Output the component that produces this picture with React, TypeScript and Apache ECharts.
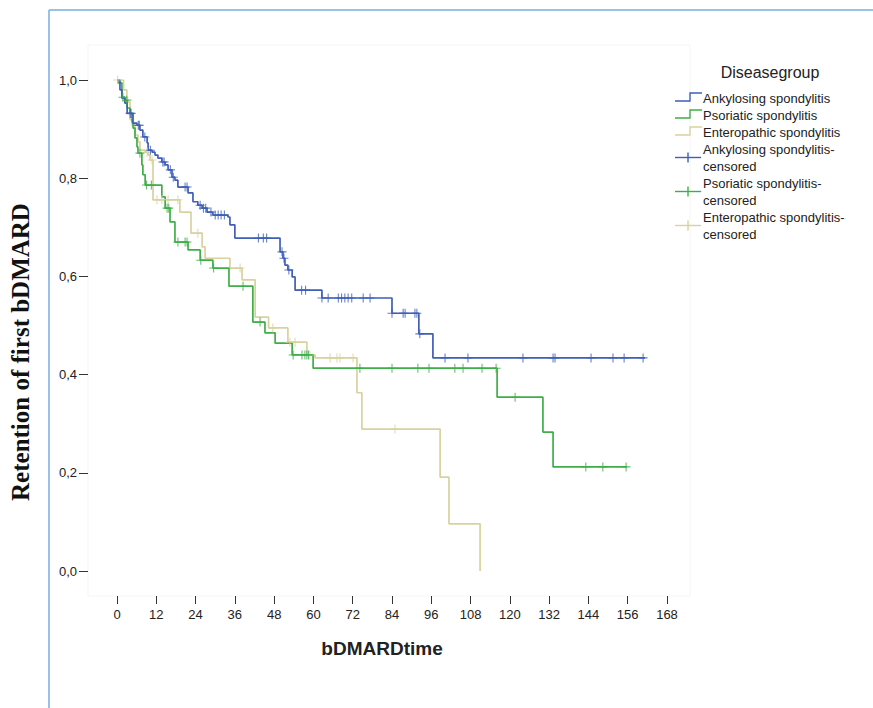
import React, { useEffect, useRef } from 'react';
import * as echarts from 'echarts';

// Kaplan–Meier steps: [time, survival after the drop at that time]
const asSteps: [number, number][] = [
  [0, 1], [0.9, 0.98], [1.5, 0.963], [2.4, 0.953], [3.1, 0.932], [4.9, 0.912], [6.1, 0.908],
  [7.0, 0.898], [7.9, 0.884], [9.2, 0.872], [9.5, 0.857], [10.7, 0.853], [11.6, 0.847],
  [12.5, 0.841], [13.7, 0.833], [14.7, 0.827], [15.6, 0.817], [16.8, 0.802], [17.7, 0.796],
  [18.6, 0.782], [21.7, 0.77], [23.2, 0.752], [24.7, 0.745], [26.0, 0.739], [27.5, 0.731],
  [29.3, 0.725], [33.9, 0.721], [34.5, 0.705], [36.0, 0.678], [49.8, 0.65], [50.7, 0.637],
  [51.3, 0.623], [52.2, 0.613], [53.5, 0.599], [54.4, 0.572], [62.6, 0.556], [84.0, 0.525],
  [92.2, 0.483], [96.5, 0.434],
];
const asEnd = 161.3;
const asCensored: number[] = [
  4.0, 4.3, 6.5, 6.8, 8.5, 10.2, 14.0, 14.4, 16.3, 17.2, 20.8, 21.4, 25.4, 26.4, 27.1, 28.7,
  30.0, 30.9, 31.8, 32.8, 43.2, 44.7, 45.7, 50.4, 51.0, 52.5, 56.4, 57.6, 62.6, 64.5, 67.6,
  68.6, 69.6, 70.6, 71.7, 75.2, 77.3, 84.0, 87.4, 88.0, 91.0, 91.6, 92.5, 100.2, 107.2, 124.0,
  133.2, 133.8, 144.8, 151.5, 154.9, 160.7,
];

const psSteps: [number, number][] = [
  [0, 1], [0.3, 0.994], [1.5, 0.965], [2.4, 0.959], [3.1, 0.943], [4.0, 0.932], [4.6, 0.914],
  [4.9, 0.902], [5.5, 0.882], [6.1, 0.864], [6.4, 0.851], [7.6, 0.827], [7.9, 0.807],
  [8.6, 0.786], [13.7, 0.762], [14.7, 0.739], [16.2, 0.711], [17.7, 0.67], [21.7, 0.654],
  [25.4, 0.633], [29.3, 0.617], [34.2, 0.58], [41.5, 0.507], [45.2, 0.485], [48.3, 0.464],
  [53.5, 0.44], [59.9, 0.413], [116.1, 0.354], [130.1, 0.283], [133.2, 0.212],
];
const psEnd = 155.8;
const psCensored: number[] = [
  1.8, 3.0, 7.0, 9.0, 10.5, 15.3, 15.8, 18.6, 20.8, 21.4, 25.6, 29.5, 38.5, 43.7, 53.8, 56.5,
  57.4, 58.0, 58.5, 74.2, 84.0, 91.9, 95.3, 103.2, 105.7, 111.5, 115.8, 121.6, 143.2, 148.4,
  155.5,
];

const esSteps: [number, number][] = [
  [0, 1], [2.0, 0.98], [3.0, 0.96], [3.4, 0.955], [4.0, 0.919], [4.6, 0.908], [5.5, 0.888],
  [6.4, 0.874], [7.0, 0.857], [8.6, 0.853], [9.5, 0.847], [10.1, 0.837], [11.0, 0.756],
  [19.2, 0.731], [22.6, 0.688], [26.0, 0.66], [26.9, 0.637], [34.5, 0.617], [38.2, 0.593],
  [42.2, 0.517], [46.3, 0.495], [52.2, 0.466], [58.0, 0.44], [60.5, 0.434], [73.3, 0.363],
  [74.8, 0.289], [98.7, 0.191], [101.4, 0.096], [110.9, 0],
];
const esEnd = 110.9;
const esCensored: number[] = [
  0.2, 9.2, 10.7, 12.2, 13.7, 15.6, 18.6, 24.7, 37.6, 47.6, 52.8, 54.4, 58.9, 65.1, 67.2, 68.1,
  72.1, 84.9,
];

const groupNames = ['Ankylosing spondylitis', 'Psoriatic spondylitis', 'Enteropathic spondylitis'];
const legendTitle = 'Diseasegroup';
const xTitle = 'bDMARDtime';
const yTitle = 'Retention of first bDMARD';

const COLORS = ['#3f5fb8', '#3fae49', '#d8d29e'];
const FONT = '"Liberation Sans", Arial, sans-serif';
const PLUS = 'path://M8.8,0H11.2V8.8H20V11.2H11.2V20H8.8V11.2H0V8.8H8.8Z';

function survAt(steps: [number, number][], t: number): number {
  let s = 1;
  for (const [st, sv] of steps) {
    if (st <= t) s = sv;
    else break;
  }
  return s;
}

export default function App() {
  const ref = useRef<HTMLDivElement>(null);

  useEffect(() => {
    if (!ref.current) return;
    const chart = echarts.init(ref.current, undefined, { renderer: 'svg' });

    const groups = [
      { steps: asSteps, end: asEnd, cens: asCensored },
      { steps: psSteps, end: psEnd, cens: psCensored },
      { steps: esSteps, end: esEnd, cens: esCensored },
    ];

    const series: any[] = [];
    [2, 1, 0].forEach((i) => {
      const g = groups[i];
      const last = g.steps[g.steps.length - 1][1];
      series.push({
        type: 'line',
        name: groupNames[i],
        step: 'end',
        data: [...g.steps, [g.end, last]],
        symbol: 'none',
        lineStyle: { color: COLORS[i], width: 1.7 },
        silent: true,
        z: 2,
      });
    });
    [2, 1, 0].forEach((i) => {
      const g = groups[i];
      series.push({
        type: 'scatter',
        name: groupNames[i] + '-censored',
        data: g.cens.map((t) => [t, survAt(g.steps, t)]),
        symbol: PLUS,
        symbolSize: 9,
        itemStyle: { color: COLORS[i] },
        silent: true,
        z: 3,
      });
    });

    const legendEls: any[] = [];
    legendEls.push({
      type: 'text',
      x: 770,
      y: 72,
      style: {
        text: legendTitle, font: `16px ${FONT}`, fill: '#222',
        align: 'center', verticalAlign: 'middle', textAlign: 'center', textVerticalAlign: 'middle',
      },
    });
    const rowY = (k: number) => 98 + 17 * k;
    for (let i = 0; i < 3; i++) {
      const y = rowY(i);
      legendEls.push({
        type: 'polyline',
        shape: { points: [[675, y + 3], [690, y + 3], [690, y - 5], [702, y - 5]] },
        style: { stroke: COLORS[i], lineWidth: 1.4, fill: 'none' },
      });
      legendEls.push({
        type: 'text', x: 703, y,
        style: {
          text: groupNames[i], font: `13px ${FONT}`, fill: '#222',
          align: 'left', verticalAlign: 'middle', textAlign: 'left', textVerticalAlign: 'middle',
        },
      });
    }
    for (let i = 0; i < 3; i++) {
      const y1 = rowY(3 + 2 * i);
      const y2 = rowY(4 + 2 * i);
      const ym = (y1 + y2) / 2;
      legendEls.push({
        type: 'line', shape: { x1: 675, y1: ym, x2: 701, y2: ym },
        style: { stroke: COLORS[i], lineWidth: 1.4 },
      });
      legendEls.push({
        type: 'line', shape: { x1: 688, y1: ym - 5, x2: 688, y2: ym + 5 },
        style: { stroke: COLORS[i], lineWidth: 1.4 },
      });
      legendEls.push({
        type: 'text', x: 703, y: y1,
        style: {
          text: groupNames[i] + '-', font: `13px ${FONT}`, fill: '#222',
          align: 'left', verticalAlign: 'middle', textAlign: 'left', textVerticalAlign: 'middle',
        },
      });
      legendEls.push({
        type: 'text', x: 703, y: y2,
        style: {
          text: 'censored', font: `13px ${FONT}`, fill: '#222',
          align: 'left', verticalAlign: 'middle', textAlign: 'left', textVerticalAlign: 'middle',
        },
      });
    }

    const option: any = {
      animation: false,
      backgroundColor: '#ffffff',
      grid: { left: 117, top: 80, width: 550, height: 491, containLabel: false },
      xAxis: {
        type: 'value', min: 0, max: 168, interval: 12, offset: 25,
        axisLine: { show: false, onZero: false },
        axisTick: { show: true, length: 8, lineStyle: { color: '#333', width: 1 } },
        axisLabel: { margin: 12, color: '#222', fontSize: 13, fontFamily: FONT },
        splitLine: { show: false },
      },
      yAxis: {
        type: 'value', min: 0, max: 1, interval: 0.2, offset: 29,
        axisLine: { show: false, onZero: false },
        axisTick: { show: true, length: 9, lineStyle: { color: '#333', width: 1 } },
        axisLabel: {
          margin: 11, color: '#222', fontSize: 13, fontFamily: FONT,
          formatter: (v: number) => v.toFixed(1).replace('.', ','),
        },
        splitLine: { show: false },
      },
      series,
      graphic: [
        {
          type: 'rect', shape: { x: 88, y: 45, width: 602, height: 551 },
          style: { fill: 'none', stroke: '#f5f5f5', lineWidth: 1 }, silent: true, z: 0,
        },
        {
          type: 'line', shape: { x1: 49, y1: 10, x2: 49, y2: 708 },
          style: { stroke: '#78aee0', lineWidth: 1.5 }, silent: true,
        },
        {
          type: 'line', shape: { x1: 49, y1: 10, x2: 873, y2: 10 },
          style: { stroke: '#78aee0', lineWidth: 1.5 }, silent: true,
        },
        {
          type: 'text', x: 382, y: 648,
          style: {
            text: xTitle, font: `bold 19px ${FONT}`, fill: '#222',
            align: 'center', verticalAlign: 'middle', textAlign: 'center', textVerticalAlign: 'middle',
          },
        },
        {
          type: 'text', x: 20, y: 352, rotation: Math.PI / 2,
          style: {
            text: yTitle, font: 'bold 25px "Liberation Serif", "Times New Roman", serif', fill: '#111',
            align: 'center', verticalAlign: 'middle', textAlign: 'center', textVerticalAlign: 'middle',
          },
        },
        ...legendEls,
      ],
    };

    chart.setOption(option);
    return () => chart.dispose();
  }, []);

  return (
    <div
      ref={ref}
      style={{ position: 'absolute', left: 0, top: 0, width: 873, height: 708, background: '#fff' }}
    />
  );
}
